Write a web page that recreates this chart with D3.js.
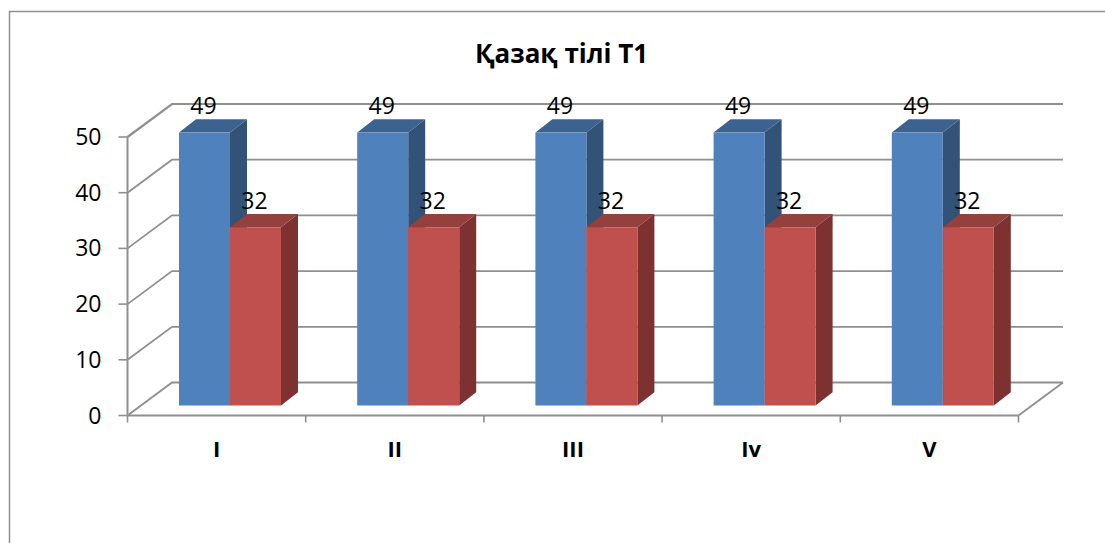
<!DOCTYPE html>
<html><head><meta charset="utf-8">
<script src="https://cdn.jsdelivr.net/npm/d3@7/dist/d3.min.js"></script>
<style>html,body{margin:0;padding:0;background:#fff;overflow:hidden}svg{display:block}text{font-family:"Open Sans","Noto Sans",sans-serif;fill:#000}</style>
</head><body><svg id="c" width="1105" height="543"></svg>
<script>
const chartTitle = "Қазақ тілі Т1";
const categories = ["I","II","III","Iv","V"];
const seriesNames = ["A","B"];
const seriesA = [49,49,49,49,49];
const seriesB = [32,32,32,32,32];
const yTicks = [0,10,20,30,40,50];
const seriesValues = [seriesA, seriesB];
const frontColors = ["#4f81bd","#c0504d"];
const sideColors = ["#335278","#7d3130"];
const topColors = ["#3c6290","#94403d"];
const grey = "#8f8f8f";

const svg = d3.select("#c");
const x = d3.scaleBand().domain(categories).range([127.5,1018.5]);
const y = d3.scaleLinear().domain([0,50]).range([415.5,137]);
const inner = d3.scaleBand().domain(seriesNames).range([51.5,153.5]);
const wallDx = 44.5, wallDy = -33;
const barDx = 17, barDy = -13.3, baseDy = -10;
const barY = v => y(v)+baseDy;

// frame
svg.append("path").attr("d","M9.5,543V11.5H1105").attr("fill","none").attr("stroke",grey).attr("stroke-width",1.5);

// walls
const g = svg.append("g").attr("fill","none").attr("stroke",grey).attr("stroke-width",1.8);
yTicks.forEach(t=>{
  g.append("path").attr("d",d3.line()([[x.range()[0],y(t)],[x.range()[0]+wallDx,y(t)+wallDy],[x.range()[1]+wallDx,y(t)+wallDy]]))
   .attr("stroke-width",t===50?2.2:1.8);
});
g.append("path").attr("d",d3.line()([[x.range()[1],y(0)],[x.range()[1]+wallDx,y(0)+wallDy]]));

// axes
const gx = svg.append("g").attr("transform",`translate(0,${y(0)})`);
gx.append("line").attr("x1",x.range()[0]).attr("x2",x.range()[1]).attr("stroke",grey).attr("stroke-width",2);
[...categories.map(c=>x(c)),x.range()[1]].forEach(p=>gx.append("line").attr("x1",p).attr("x2",p).attr("y1",0).attr("y2",7).attr("stroke",grey).attr("stroke-width",1.6));
categories.forEach(c=>gx.append("text").attr("x",x(c)+x.bandwidth()/2).attr("y",41).attr("text-anchor","middle").attr("font-size",22).attr("font-weight",700).text(c));

const gy = svg.append("g").attr("transform",`translate(${x.range()[0]},0)`);
gy.append("line").attr("y1",y(50)).attr("y2",y(0)).attr("stroke",grey).attr("stroke-width",2);
yTicks.forEach(t=>{
  gy.append("line").attr("x1",-9).attr("x2",0).attr("y1",y(t)).attr("y2",y(t)).attr("stroke",grey).attr("stroke-width",1.6);
  gy.append("text").attr("x",-26).attr("y",y(t)+8).attr("text-anchor","end").attr("font-size",23).text(t);
});

// 3D bars
const labels = [];
categories.forEach((c,i)=>{
  seriesValues.forEach((vals,s)=>{
    const v = vals[i], x0 = x(c)+inner(seriesNames[s]), x1 = x0+inner.bandwidth();
    const yt = barY(v), yb = barY(0);
    const bar = svg.append("g");
    bar.append("polygon").attr("fill",sideColors[s]).attr("points",[[x1,yt],[x1+barDx,yt+barDy],[x1+barDx,yb+barDy],[x1,yb]].join(" "));
    bar.append("polygon").attr("fill",topColors[s]).attr("points",[[x0,yt],[x0+barDx,yt+barDy],[x1+barDx,yt+barDy],[x1,yt]].join(" "));
    bar.append("rect").attr("x",x0).attr("y",yt).attr("width",x1-x0).attr("height",yb-yt).attr("fill",frontColors[s]);
    labels.push({t:v,x:x0+24.5,y:yt-18.5});
  });
});
labels.forEach(l=>svg.append("text").attr("x",l.x).attr("y",l.y).attr("text-anchor","middle").attr("font-size",23).text(l.t));

svg.append("text").attr("x",561.5).attr("y",63).attr("text-anchor","middle").attr("font-size",26).attr("font-weight",700).text(chartTitle);
</script></body></html>
